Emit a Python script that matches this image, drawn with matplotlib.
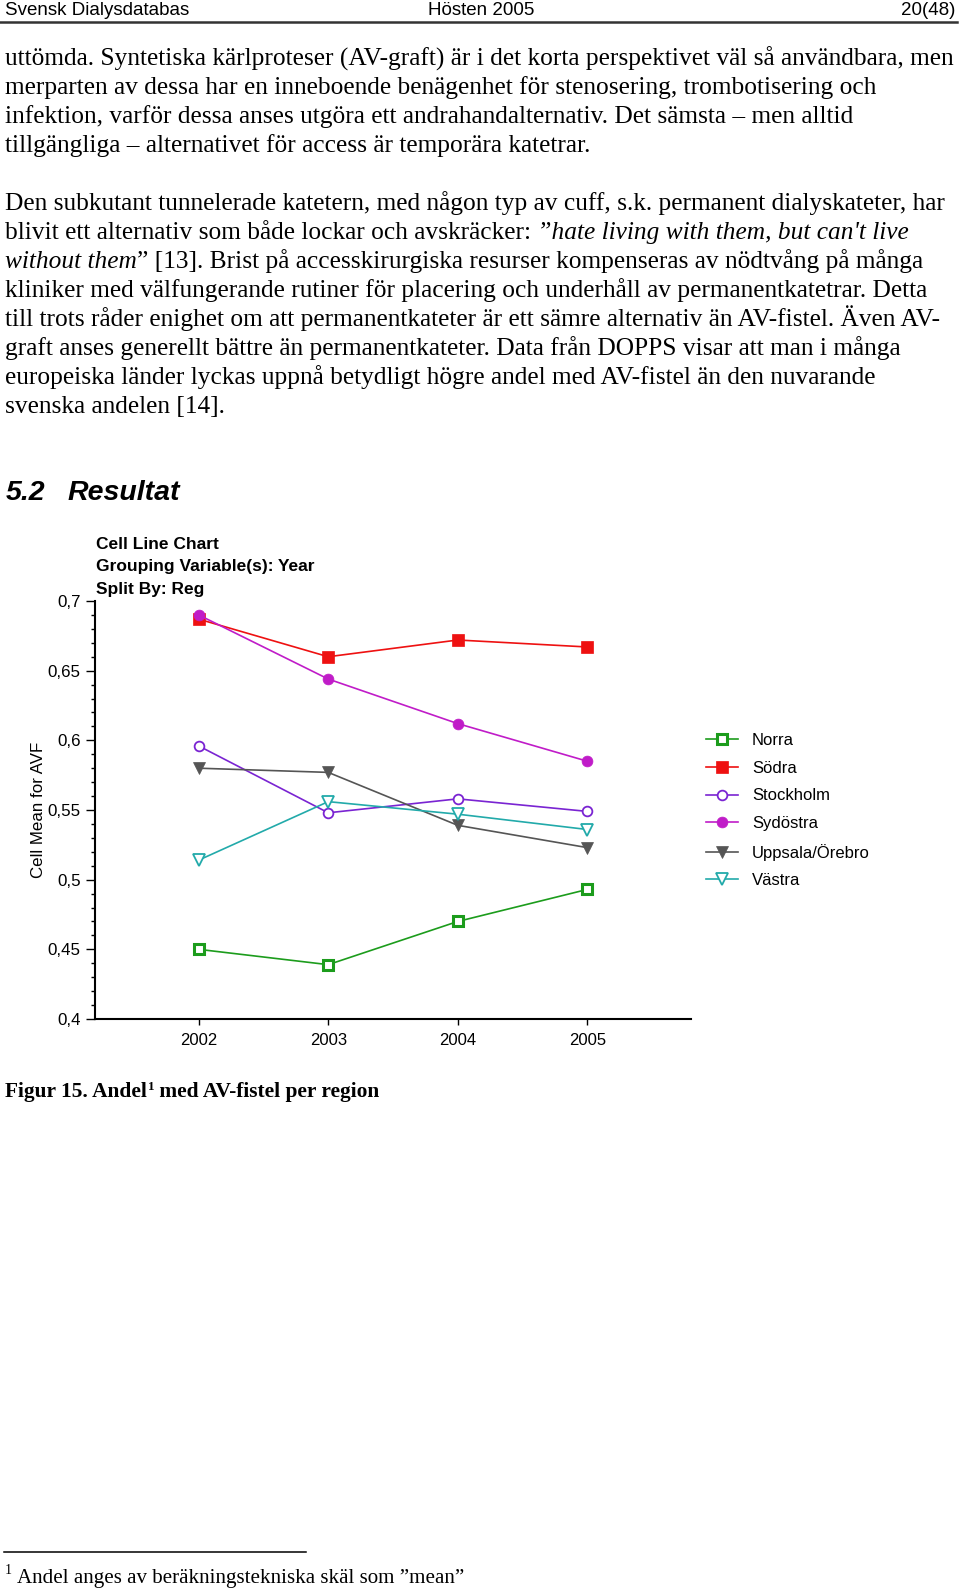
import matplotlib
matplotlib.use("Agg")
import matplotlib.pyplot as plt
from matplotlib.lines import Line2D
from matplotlib.ticker import MultipleLocator

# data
years = [2002, 2003, 2004, 2005]
norra = [0.450, 0.439, 0.470, 0.493]
sodra = [0.687, 0.660, 0.672, 0.667]
stockholm = [0.596, 0.548, 0.558, 0.549]
sydostra = [0.690, 0.644, 0.612, 0.585]
uppsala = [0.580, 0.577, 0.539, 0.523]
vastra = [0.514, 0.556, 0.547, 0.536]
regions = ["Norra", "Södra", "Stockholm", "Sydöstra", "Uppsala/Örebro", "Västra"]
yticks = [0.4, 0.45, 0.5, 0.55, 0.6, 0.65, 0.7]
ytick_labels = ["0,4", "0,45", "0,5", "0,55", "0,6", "0,65", "0,7"]

SERIF = "Liberation Serif"
SANS = "Liberation Sans"
W, H = 960, 1589

fig = plt.figure(figsize=(W / 100, H / 100), dpi=100)
rend = fig.canvas.get_renderer()


def put(x, y, s, **kw):
    # x, y in page pixels from top-left, y = baseline
    kw.setdefault("va", "baseline")
    return fig.text(x / W, 1 - y / H, s, **kw)


def put_runs(x, y, parts, **kw):
    for s, style in parts:
        t = put(x, y, s, style=style, **kw)
        x = t.get_window_extent(rend).x1
    return x


# page header
put(5, 15, "Svensk Dialysdatabas", family=SANS, fontsize=13.5)
put(481, 15, "Hösten 2005", family=SANS, fontsize=13.5, ha="center")
put(955, 15, "20(48)", family=SANS, fontsize=13.5, ha="right")
fig.add_artist(Line2D([0, 957 / W], [1 - 22 / H] * 2, lw=1.8, color="#333333"))

body = dict(family=SERIF, fontsize=18.25)
para1 = [
    "uttömda. Syntetiska kärlproteser (AV-graft) är i det korta perspektivet väl så användbara, men",
    "merparten av dessa har en inneboende benägenhet för stenosering, trombotisering och",
    "infektion, varför dessa anses utgöra ett andrahandalternativ. Det sämsta – men alltid",
    "tillgängliga – alternativet för access är temporära katetrar.",
]
for i, line in enumerate(para1):
    put(5, 65.5 + i * 28.7, line, **body)

para2 = [
    [("Den subkutant tunnelerade katetern, med någon typ av cuff, s.k. permanent dialyskateter, har", "normal")],
    [("blivit ett alternativ som både lockar och avskräcker:", "normal"),
     (" ”hate living with them, but can't live", "italic")],
    [("without them", "italic"),
     ("” [13]. Brist på accesskirurgiska resurser kompenseras av nödtvång på många", "normal")],
    [("kliniker med välfungerande rutiner för placering och underhåll av permanentkatetrar. Detta", "normal")],
    [("till trots råder enighet om att permanentkateter är ett sämre alternativ än AV-fistel. Även AV-", "normal")],
    [("graft anses generellt bättre än permanentkateter. Data från DOPPS visar att man i många", "normal")],
    [("europeiska länder lyckas uppnå betydligt högre andel med AV-fistel än den nuvarande", "normal")],
    [("svenska andelen [14].", "normal")],
]
for i, parts in enumerate(para2):
    put_runs(5, 210 + i * 29.0, parts, **body)

# section heading
put(6, 500, "5.2", family=SANS, fontsize=20.5, weight="bold", style="italic")
put(67, 500, "Resultat", family=SANS, fontsize=20.5, weight="bold", style="italic")

# chart titles
for i, s in enumerate(["Cell Line Chart", "Grouping Variable(s): Year", "Split By: Reg"]):
    put(96, 549 + i * 22.5, s, family=SANS, fontsize=12.5, weight="bold")

ax = fig.add_axes([95 / W, 1 - 1019 / H, (691 - 95) / W, (1019 - 601) / H])

series = [norra, sodra, stockholm, sydostra, uppsala, vastra]
colors = ["#1c9c1c", "#ee1111", "#7a24d2", "#c01cc8", "#555555", "#22aaaa"]
markers = ["s", "s", "o", "o", "v", "v"]
sizes = [6.8, 9, 7, 7.8, 8.5, 8.5]
faces = ["white", None, "white", None, None, "white"]
edges = [2.2, 0.5, 1.3, 0.5, 0.5, 1.3]

for vals, name, c, m, ms, fc, mew in zip(series, regions, colors, markers, sizes, faces, edges):
    ax.plot(years, vals, color=c, lw=1.2, marker=m, ms=ms,
            mfc=fc if fc else c, mec=c, mew=mew, label=name, clip_on=False)

ax.set_xlim(2001.2, 2005.8)
ax.set_ylim(0.4, 0.7)
ax.set_xticks(years)
ax.set_xticklabels([str(y) for y in years], family=SANS, fontsize=12)
ax.set_yticks(yticks)
ax.set_yticklabels(ytick_labels, family=SANS, fontsize=12.2)
ax.yaxis.set_minor_locator(MultipleLocator(0.01))
ax.tick_params(axis="y", which="major", length=6.3, width=1, pad=4)
ax.tick_params(axis="y", which="minor", length=3, width=1)
ax.tick_params(axis="x", length=4, width=1, pad=6)
for side in ["top", "right"]:
    ax.spines[side].set_visible(False)
for side in ["left", "bottom"]:
    ax.spines[side].set_linewidth(1.5)

fig.text(39 / W, 1 - 810 / H, "Cell Mean for AVF", family=SANS, fontsize=12.2,
         rotation=90, ha="center", va="center")

ax.legend(loc="upper left", bbox_to_anchor=(706 / W, 1 - 733 / H),
          bbox_transform=fig.transFigure, frameon=False,
          prop={"family": SANS, "size": 12}, handlelength=1.9,
          handletextpad=0.85, labelspacing=0.76, borderpad=0, borderaxespad=0)

# caption
cap = dict(family=SERIF, fontsize=15.4, weight="bold")
t = put(5, 1097, "Figur 15. Andel", **cap)
x = t.get_window_extent(rend).x1 + 1
t = put(x, 1090, "1", family=SERIF, fontsize=9.5, weight="bold")
x = t.get_window_extent(rend).x1
put(x, 1097, " med AV-fistel per region", **cap)

# footnote
fig.add_artist(Line2D([4 / W, 306 / W], [1 - 1552 / H] * 2, lw=1.1, color="black"))
put(5, 1574, "1", family=SERIF, fontsize=10)
put(17, 1583, "Andel anges av beräkningstekniska skäl som ”mean”", family=SERIF, fontsize=15.1)

fig.savefig("out.png", dpi=100)
